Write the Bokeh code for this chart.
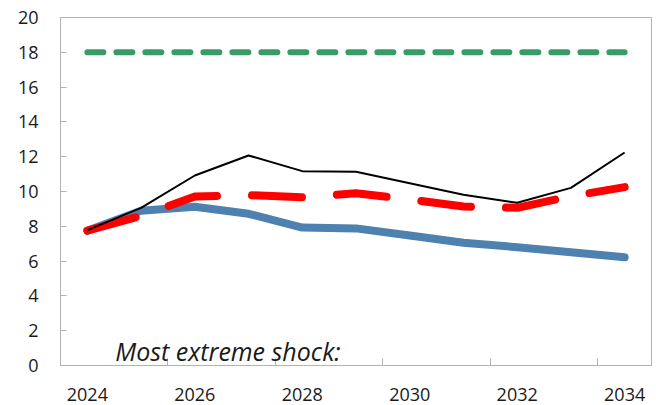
from bokeh.plotting import figure
from bokeh.models import FixedTicker, Range1d, Label
from bokeh.embed import file_html
from bokeh.resources import INLINE

# ---- data ----
years = [2024, 2025, 2026, 2027, 2028, 2029, 2030, 2031, 2032, 2033, 2034]
baseline = [7.75, 8.9, 9.12, 8.72, 7.93, 7.88, 7.47, 7.05, 6.8, 6.51, 6.22]
historical = [7.75, 8.6, 9.71, 9.79, 9.67, 9.9, 9.54, 9.14, 9.06, 9.73, 10.25]
extreme_shock = [7.78, 9.06, 10.92, 12.07, 11.17, 11.13, 10.48, 9.81, 9.35, 10.21, 12.24]
threshold = [18, 18, 18, 18, 18, 18, 18, 18, 18, 18, 18]
x_tick_years = [2024, 2026, 2028, 2030, 2032, 2034]
x_boundaries = [2025.5, 2027.5, 2029.5, 2031.5, 2033.5]
y_ticks = [0, 2, 4, 6, 8, 10, 12, 14, 16, 18, 20]
note_text = "Most extreme shock:"

GRAY = "#b3b3b3"
FONT = "Open Sans"

p = figure(width=656, height=405, output_backend="svg", toolbar_location=None,
           x_range=Range1d(2023.5, 2034.5), y_range=Range1d(0, 20),
           min_border_left=60, min_border_right=5, min_border_top=17, min_border_bottom=40)
p.background_fill_color = "white"
p.border_fill_color = "white"
p.outline_line_color = GRAY
p.outline_line_width = 1
p.xgrid.visible = False
p.ygrid.visible = False

# lines
p.line(years, threshold, line_color="#389c68", line_width=6, line_dash="16 13", line_cap="round")
p.line(years, baseline, line_color="#4f81b0", line_width=8, line_cap="round", line_join="round")
p.line(years, historical, line_color="#ff0000", line_width=8, line_dash="50 35", line_cap="round", line_join="round")
p.line(years, extreme_shock, line_color="black", line_width=2)

# y axis
ya = p.yaxis[0]
ya.ticker = FixedTicker(ticks=y_ticks, minor_ticks=[])
ya.axis_line_color = GRAY
ya.major_tick_line_color = GRAY
ya.major_tick_in = 6
ya.major_tick_out = 0
ya.minor_tick_line_color = None
ya.major_label_standoff = 22
ya.major_label_text_font = FONT
ya.major_label_text_font_size = "18px"
ya.major_label_text_color = "#1a1a1a"

# x axis: labels at category centres, tick marks at boundaries
xa = p.xaxis[0]
xa.ticker = FixedTicker(ticks=x_tick_years, minor_ticks=x_boundaries)
xa.axis_line_color = GRAY
xa.major_tick_line_color = None
xa.major_tick_in = 0
xa.major_tick_out = 0
xa.minor_tick_line_color = GRAY
xa.minor_tick_in = 7
xa.minor_tick_out = 0
xa.major_label_standoff = 22
xa.major_label_text_line_height = 0.7
xa.major_label_text_font = FONT
xa.major_label_text_font_size = "18px"
xa.major_label_text_color = "#1a1a1a"

p.add_layout(Label(x=2024.52, y=0.86, text=note_text, text_font=FONT,
                   text_font_style="italic", text_font_size="25px",
                   text_color="#1a1a1a", text_baseline="alphabetic"))

open("out.html", "w").write(file_html(p, INLINE))
